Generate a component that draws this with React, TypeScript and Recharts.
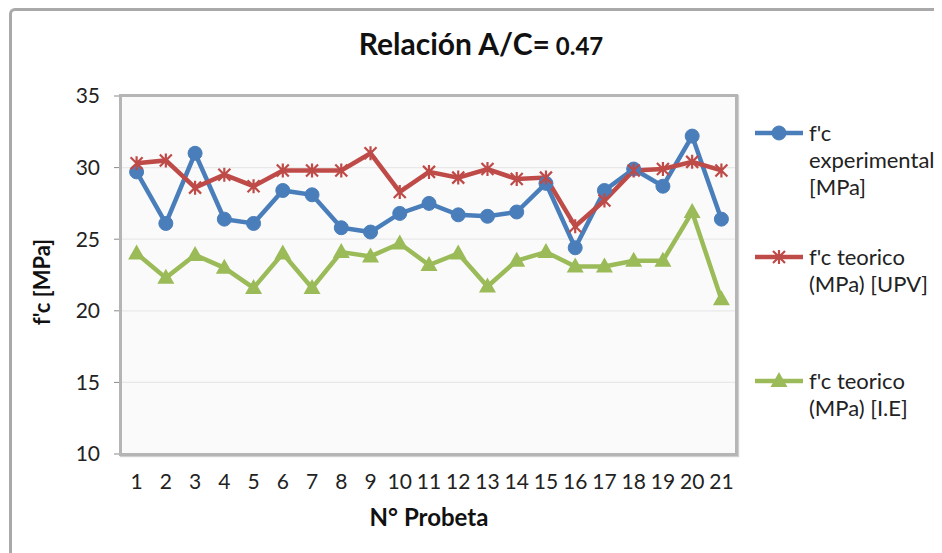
import React from "react";
import { LineChart, Line, XAxis, YAxis, CartesianGrid } from "recharts";

// N° de probeta (categorias del eje X)
const probetas = ["1", "2", "3", "4", "5", "6", "7", "8", "9", "10", "11", "12", "13", "14", "15", "16", "17", "18", "19", "20", "21"];

// valores [MPa]
const fcExperimental = [29.7, 26.1, 31.0, 26.4, 26.1, 28.4, 28.1, 25.8, 25.5, 26.8, 27.5, 26.7, 26.6, 26.9, 28.9, 24.4, 28.4, 29.9, 28.7, 32.2, 26.4];
const fcTeoricoUpv = [30.3, 30.5, 28.6, 29.5, 28.7, 29.8, 29.8, 29.8, 31.0, 28.3, 29.7, 29.3, 29.9, 29.2, 29.3, 25.9, 27.7, 29.8, 29.9, 30.4, 29.8];
const fcTeoricoIe = [24.0, 22.3, 23.9, 23.0, 21.6, 24.0, 21.6, 24.1, 23.8, 24.7, 23.2, 24.0, 21.7, 23.5, 24.1, 23.1, 23.1, 23.5, 23.5, 26.9, 20.8];

const yTicks = [10, 15, 20, 25, 30, 35];

const data = probetas.map((p, i) => ({
  probeta: p,
  exp: fcExperimental[i],
  upv: fcTeoricoUpv[i],
  ie: fcTeoricoIe[i],
}));

const BLUE = "#4a7ebb";
const RED = "#be4b48";
const GREEN = "#9bbb59";
const FONT = "Lato, 'Open Sans', sans-serif";

// marker shapes
const circle = (cx: number, cy: number, key?: any) => (
  <circle key={key} cx={cx} cy={cy} r={7} fill={BLUE} stroke={BLUE} />
);
const star = (cx: number, cy: number, key?: any) => (
  <path
    key={key}
    d={`M${cx - 6},${cy - 6}L${cx + 6},${cy + 6}M${cx - 6},${cy + 6}L${cx + 6},${cy - 6}M${cx},${cy - 7}L${cx},${cy + 7}`}
    stroke={RED}
    strokeWidth={2.2}
    fill="none"
  />
);
const triangle = (cx: number, cy: number, key?: any) => (
  <path key={key} d={`M${cx},${cy - 9}L${cx + 8.5},${cy + 6}L${cx - 8.5},${cy + 6}Z`} fill={GREEN} />
);

const series = [
  { key: "exp", lines: ["f'c", "experimental", "[MPa]"], color: BLUE, marker: circle, y: 125 },
  { key: "upv", lines: ["f'c teorico", "(MPa) [UPV]"], color: RED, marker: star, y: 249 },
  { key: "ie", lines: ["f'c teorico", "(MPa) [I.E]"], color: GREEN, marker: triangle, y: 373 },
];

const W = 934;
const H = 545;

export default function App() {
  return (
    <div style={{ position: "relative", width: W, height: H, overflow: "hidden", background: "#fff" }}>
      {/* chart outer frame */}
      <div
        style={{
          position: "absolute",
          left: 1,
          top: 0,
          width: W + 20,
          height: H + 20,
          borderLeft: "3px solid #a9a9a9",
          borderTop: "3px solid #a9a9a9",
          borderTopLeftRadius: 6,
          boxSizing: "border-box",
        }}
      />
      <LineChart
        width={W}
        height={H}
        data={data}
        margin={{ top: 88, right: 206, bottom: 59, left: 54 }}
        style={{ position: "absolute", left: 0, top: 0 }}
      >
        <CartesianGrid vertical={false} fill="#fafafa" stroke="#e8e8e8" strokeWidth={1.2} />
        <XAxis
          dataKey="probeta"
          height={40}
          padding={{ left: 14.6, right: 14.6 }}
          tickLine={false}
          axisLine={false}
          tickSize={0}
          tickMargin={20}
          interval={0}
          tick={{ fill: "#222", fontSize: 21, fontFamily: FONT }}
        />
        <YAxis
          width={60}
          domain={[10, 35]}
          ticks={yTicks}
          axisLine={false}
          tickSize={8}
          tickMargin={14}
          tickLine={{ stroke: "#8a8a8a" }}
          tick={{ fill: "#222", fontSize: 21, fontFamily: FONT }}
        />
        {series.map((s) => (
          <Line
            key={s.key}
            dataKey={s.key}
            stroke={s.color}
            strokeWidth={4.5}
            isAnimationActive={false}
            dot={(p: any) => s.marker(p.cx, p.cy, `${s.key}-${p.index}`)}
            activeDot={false}
          />
        ))}
      </LineChart>
      {/* plot area frame */}
      <div
        style={{
          position: "absolute",
          left: 111,
          top: 86,
          width: 619,
          height: 362,
          border: "3px solid #b5b5b5",
          boxShadow: "1px 1px 1px #d0d0d0",
          boxSizing: "border-box",
          pointerEvents: "none",
        }}
      />
      <svg width={W} height={H} style={{ position: "absolute", left: 0, top: 0, pointerEvents: "none" }}>
        <text x={473} y={47} textAnchor="middle" fontFamily={FONT} fontWeight="bold" fontSize={30} fill="#111">
          Relación A/C=<tspan fontSize={24}> 0.47</tspan>
        </text>
        <text
          x={0}
          y={0}
          transform="translate(42,274) rotate(-90)"
          textAnchor="middle"
          fontFamily={FONT}
          fontWeight="bold"
          fontSize={22}
          fill="#111"
        >
          f'c [MPa]
        </text>
        <text x={421} y={518} textAnchor="middle" fontFamily={FONT} fontWeight="bold" fontSize={24} fill="#111">
          N° Probeta
        </text>
        {series.map((s) => (
          <g key={s.key}>
            <line x1={747} x2={795} y1={s.y} y2={s.y} stroke={s.color} strokeWidth={4.5} />
            {s.marker(771, s.y)}
            {s.lines.map((t, j) => (
              <text key={j} x={801} y={s.y + 8 + j * 27} fontFamily={FONT} fontSize={22} fill="#222">
                {t}
              </text>
            ))}
          </g>
        ))}
      </svg>
    </div>
  );
}
